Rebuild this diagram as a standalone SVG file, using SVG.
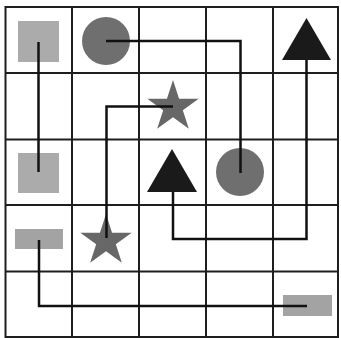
<svg xmlns="http://www.w3.org/2000/svg" width="341" height="338" viewBox="0 0 341 338">
<style>
.grid{stroke:#1e1e1e;stroke-width:2;fill:none}
.conn{stroke:#111;stroke-width:2.5;fill:none;stroke-linejoin:miter}
.sq{fill:#ababab}
.rect{fill:#a3a3a3}
.circ{fill:#6f6f6f}
.star{fill:#676767}
.tri{fill:#1a1a1a}
</style>
<defs>
<polygon id="starShape" points="0,-27 6.06,-8.34 25.68,-8.34 9.81,3.19 15.87,21.84 0,10.31 -15.87,21.84 -9.81,3.19 -25.68,-8.34 -6.06,-8.34"/>
</defs>
<rect width="341" height="338" fill="#ffffff"/>
<g id="grid" class="grid">
<rect x="5.5" y="7" width="332.5" height="330"/>
<line x1="72" y1="7" x2="72" y2="337"/>
<line x1="139" y1="7" x2="139" y2="337"/>
<line x1="206" y1="7" x2="206" y2="337"/>
<line x1="273" y1="7" x2="273" y2="337"/>
<line x1="5.5" y1="73" x2="338" y2="73"/>
<line x1="5.5" y1="139.5" x2="338" y2="139.5"/>
<line x1="5.5" y1="205" x2="338" y2="205"/>
<line x1="5.5" y1="271.5" x2="338" y2="271.5"/>
</g>
<g id="node-square1"><rect class="sq" x="18" y="21" width="41" height="41"/></g>
<g id="node-circle1"><circle class="circ" cx="106" cy="41" r="24"/></g>
<g id="node-triangle1"><polygon class="tri" points="306.5,18 331,60 282,60"/></g>
<g id="node-star1"><use href="#starShape" class="star" x="173" y="107"/></g>
<g id="node-square2"><rect class="sq" x="18" y="153" width="41" height="40"/></g>
<g id="node-triangle2"><polygon class="tri" points="172,149 197,192 147,192"/></g>
<g id="node-circle2"><circle class="circ" cx="240" cy="172" r="24"/></g>
<g id="node-rect1"><rect class="rect" x="15" y="229" width="48" height="20"/></g>
<g id="node-star2"><use href="#starShape" class="star" x="106" y="241"/></g>
<g id="node-rect2"><rect class="rect" x="283" y="295" width="49" height="21"/></g>
<g id="connectors" class="conn">
<polyline points="38.5,42 38.5,172"/>
<polyline points="106,41 240.5,41 240.5,173"/>
<polyline points="306.5,60 306.5,239 173,239 173,192"/>
<polyline points="173,106.5 106.5,106.5 106.5,238"/>
<polyline points="39,240 39,306 307,306"/>
</g>
</svg>
